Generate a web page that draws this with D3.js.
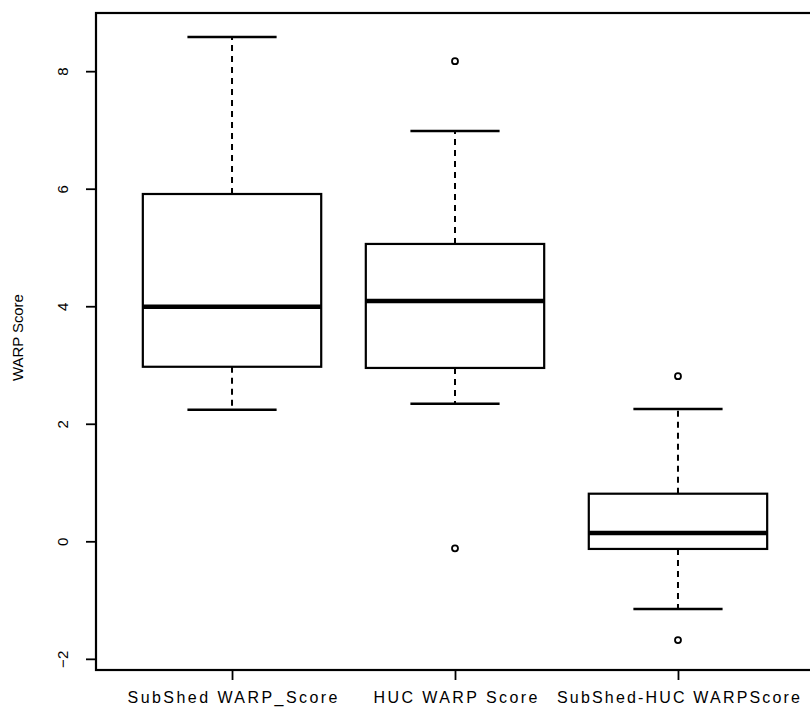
<!DOCTYPE html>
<html>
<head>
<meta charset="utf-8">
<script src="https://cdn.jsdelivr.net/npm/d3@7"></script>
<style>
  html, body { margin: 0; padding: 0; background: #fff; }
  svg { display: block; }
  text { font-family: "Liberation Sans", Arial, sans-serif; fill: #000; }
</style>
</head>
<body>
<svg id="chart" width="810" height="717"></svg>
<script>
// Box statistics per group: whisker ends, quartiles and median
const categories = ["SubShed WARP_Score", "HUC WARP Score", "SubShed-HUC WARPScore"];
const lowerWhisker = [2.24, 2.34, -1.15];
const q1Values     = [2.97, 2.95, -0.13];
const medians      = [3.99, 4.09, 0.14];
const q3Values     = [5.91, 5.06, 0.81];
const upperWhisker = [8.58, 6.98, 2.25];
// Outlying observations: [group index, value]
const outliers = [[1, 8.17], [1, -0.12], [2, 2.81], [2, -1.68]];
const yTicks = [-2, 0, 2, 4, 6, 8];
const yLabel = "WARP Score";

const svg = d3.select("#chart");
const frame = { left: 96, right: 814, top: 13, bottom: 670 };

const x = d3.scaleLinear().domain([0.39, 3.61]).range([frame.left, frame.right]);
const y = d3.scaleLinear().domain([-2.19, 8.99]).range([frame.bottom, frame.top]);

const boxHalf = 0.4;   // box half-width in group units
const capHalf = 0.2;   // whisker cap half-width

const groups = categories.map((c, i) => ({
  name: c, pos: i + 1,
  lo: lowerWhisker[i], q1: q1Values[i], med: medians[i], q3: q3Values[i], hi: upperWhisker[i]
}));

const g = svg.append("g");

// whiskers (dashed)
g.selectAll(".whisk-up").data(groups).join("line")
  .attr("x1", d => x(d.pos)).attr("x2", d => x(d.pos))
  .attr("y1", d => y(d.q3)).attr("y2", d => y(d.hi))
  .attr("stroke", "#000").attr("stroke-width", 2).attr("stroke-dasharray", "6,5");
g.selectAll(".whisk-dn").data(groups).join("line")
  .attr("x1", d => x(d.pos)).attr("x2", d => x(d.pos))
  .attr("y1", d => y(d.q1)).attr("y2", d => y(d.lo))
  .attr("stroke", "#000").attr("stroke-width", 2).attr("stroke-dasharray", "6,5");

// whisker caps
["hi", "lo"].forEach(k => {
  g.selectAll(".cap-" + k).data(groups).join("line")
    .attr("x1", d => x(d.pos - capHalf)).attr("x2", d => x(d.pos + capHalf))
    .attr("y1", d => y(d[k])).attr("y2", d => y(d[k]))
    .attr("stroke", "#000").attr("stroke-width", 2.5);
});

// boxes
g.selectAll(".box").data(groups).join("rect")
  .attr("x", d => x(d.pos - boxHalf))
  .attr("width", d => x(d.pos + boxHalf) - x(d.pos - boxHalf))
  .attr("y", d => y(d.q3))
  .attr("height", d => y(d.q1) - y(d.q3))
  .attr("fill", "#fff").attr("stroke", "#000").attr("stroke-width", 2.2);

// medians
g.selectAll(".med").data(groups).join("line")
  .attr("x1", d => x(d.pos - boxHalf)).attr("x2", d => x(d.pos + boxHalf))
  .attr("y1", d => y(d.med)).attr("y2", d => y(d.med))
  .attr("stroke", "#000").attr("stroke-width", 4.5);

// outliers
g.selectAll(".out").data(outliers).join("circle")
  .attr("cx", d => x(d[0] + 1)).attr("cy", d => y(d[1]))
  .attr("r", 3).attr("fill", "none").attr("stroke", "#000").attr("stroke-width", 1.8);

// plot frame
svg.append("rect")
  .attr("x", frame.left).attr("y", frame.top)
  .attr("width", frame.right - frame.left).attr("height", frame.bottom - frame.top)
  .attr("fill", "none").attr("stroke", "#000").attr("stroke-width", 2.2);

// y axis
const yAxis = d3.axisLeft(y).tickValues(yTicks).tickSize(10).tickPadding(0).tickFormat(d3.format("d"));
const ya = svg.append("g").attr("transform", `translate(${frame.left},0)`).call(yAxis);
ya.select(".domain").remove();
ya.selectAll(".tick line").attr("stroke", "#000").attr("stroke-width", 1.8);
ya.selectAll(".tick text")
  .attr("x", 0).attr("dy", null)
  .attr("transform", "translate(-34,0) rotate(-90)")
  .attr("text-anchor", "middle").attr("dominant-baseline", "central")
  .style("font-size", "15px").style("font-family", "\"Liberation Sans\", Arial, sans-serif");

// x axis
const xAxis = d3.axisBottom(x).tickValues(groups.map(d => d.pos)).tickSize(10).tickPadding(0)
  .tickFormat((d, i) => categories[i]);
const xa = svg.append("g").attr("transform", `translate(0,${frame.bottom})`).call(xAxis);
xa.select(".domain").remove();
xa.selectAll(".tick line").attr("stroke", "#000").attr("stroke-width", 1.8);
const labelWidths = [210, 164, 243];
xa.selectAll(".tick text")
  .attr("y", 33).attr("dy", null)
  .style("font-size", "16px").style("font-family", "\"Liberation Sans\", Arial, sans-serif")
  .attr("textLength", (d, i) => labelWidths[i]).attr("lengthAdjust", "spacing");

// y axis title
svg.append("text")
  .attr("transform", `translate(17,${(y(4) + y(3)) / 2 + 2}) rotate(-90)`)
  .attr("text-anchor", "middle").attr("dominant-baseline", "central")
  .attr("textLength", 87).attr("lengthAdjust", "spacing")
  .style("font-size", "15px")
  .text(yLabel);
</script>
</body>
</html>
